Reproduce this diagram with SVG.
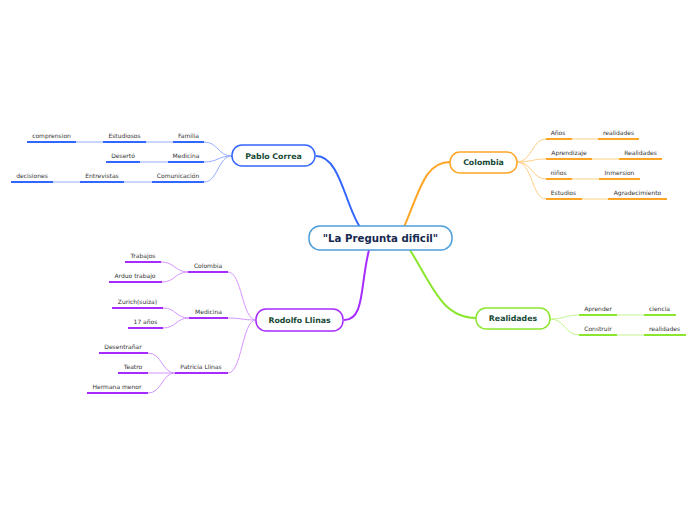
<svg xmlns="http://www.w3.org/2000/svg" width="696" height="520" viewBox="0 0 696 520">
<style>
.bg{fill:#ffffff}
.node rect{fill:#ffffff;stroke-width:1.5}
.nt{font-family:"DejaVu Sans",Verdana,sans-serif;font-weight:bold;font-size:7.8px;fill:#174a35;text-anchor:middle}
.ct{font-family:"DejaVu Sans",Verdana,sans-serif;font-weight:bold;font-size:10.2px;fill:#16294f;text-anchor:middle}
.st{font-family:"DejaVu Sans",Verdana,sans-serif;font-size:6px;fill:#333333;text-anchor:middle}
.ul{stroke-width:2;fill:none}
.main{stroke-width:2;fill:none}
.thin{stroke-width:1;fill:none}
.blue{stroke:#3366ff}.lblue{stroke:#93acff}
.orange{stroke:#ffa526}.lorange{stroke:#ffcf85}
.purple{stroke:#a52bff}.lpurple{stroke:#d494ff}
.green{stroke:#8ae62e}.lgreen{stroke:#c4f490}
</style>
<rect class="bg" x="0" y="0" width="696" height="520"/>
<g id="connectors">
  <path class="main blue" d="M316,156 C340,156 345,205 360,227"/>
  <path class="main orange" d="M404,227 C420,190 425,162 450,162"/>
  <path class="main purple" d="M369,250 C360,285 365,320 344,320"/>
  <path class="main green" d="M410,250 C432,285 442,318 476,318"/>
  <!-- Pablo Correa children -->
  <path class="thin lblue" d="M232,156 C218,156 218,142 204,142"/>
  <path class="thin lblue" d="M232,156 C218,156 218,162 204,162"/>
  <path class="thin lblue" d="M232,156 C218,156 218,182 204,182"/>
  <path class="thin lblue" d="M173,142 L146,142 M103,142 L76,142 M168,162 L140,162 M152,182 L124,182 M80,182 L53,182"/>
  <!-- Colombia children -->
  <path class="thin lorange" d="M517,162 C532,162 532,139 546,139"/>
  <path class="thin lorange" d="M517,162 C532,162 532,159 546,159"/>
  <path class="thin lorange" d="M517,162 C532,162 532,179 546,179"/>
  <path class="thin lorange" d="M517,162 C532,162 532,199 546,199"/>
  <path class="thin lorange" d="M572,139 L598,139 M592,159 L619,159 M572,179 L599,179 M582,199 L608,199"/>
  <!-- Rodolfo children -->
  <path class="thin lpurple" d="M256,320 C242,320 242,272 228,272"/>
  <path class="thin lpurple" d="M256,320 C242,320 242,318 228,318"/>
  <path class="thin lpurple" d="M256,320 C242,320 242,373 228,373"/>
  <path class="thin lpurple" d="M188,272 C175,272 175,262 161,262"/>
  <path class="thin lpurple" d="M188,272 C175,272 175,282 162,282"/>
  <path class="thin lpurple" d="M189,318 C176,318 176,308 163,308"/>
  <path class="thin lpurple" d="M189,318 C176,318 176,328 163,328"/>
  <path class="thin lpurple" d="M175,373 C162,373 162,353 148,353"/>
  <path class="thin lpurple" d="M175,373 L148,373"/>
  <path class="thin lpurple" d="M175,373 C162,373 162,393 148,393"/>
  <!-- Realidades children -->
  <path class="thin lgreen" d="M550,319 C565,319 565,315 579,315"/>
  <path class="thin lgreen" d="M550,319 C565,319 565,335 579,335"/>
  <path class="thin lgreen" d="M617,315 L644,315 M617,335 L644,335"/>
</g>
<g id="center" class="node">
  <rect x="309" y="226" width="143" height="24" rx="11" stroke="#4d9fdc"/>
  <text class="ct" x="380.5" y="241.5">"La Pregunta dificil"</text>
</g>
<g id="pablo" class="node">
  <rect x="232" y="145" width="83" height="21" rx="10" stroke="#3366ff"/>
  <text class="nt" x="273.5" y="158.8">Pablo Correa</text>
</g>
<g id="colombia" class="node">
  <rect x="450" y="152" width="67" height="21" rx="10" stroke="#ffa526"/>
  <text class="nt" x="483.5" y="165.3">Colombia</text>
</g>
<g id="rodolfo" class="node">
  <rect x="256" y="309" width="87" height="22" rx="10" stroke="#a52bff"/>
  <text class="nt" x="299.5" y="322.8">Rodolfo Llinas</text>
</g>
<g id="realidades" class="node">
  <rect x="476" y="308" width="74" height="21" rx="10" stroke="#8ae62e"/>
  <text class="nt" x="513" y="321.3">Realidades</text>
</g>
<g id="pablo-children">
  <g id="familia"><path class="ul blue" d="M173,142 H204"/><text class="st" x="188.5" y="138">Familia</text></g>
  <g id="estudiosos"><path class="ul blue" d="M103,142 H146"/><text class="st" x="124.5" y="138">Estudiosos</text></g>
  <g id="comprension"><path class="ul blue" d="M27,142 H76"/><text class="st" x="51.5" y="138">comprension</text></g>
  <g id="medicina-p"><path class="ul blue" d="M168,162 H204"/><text class="st" x="186" y="158">Medicina</text></g>
  <g id="deserto"><path class="ul blue" d="M106,162 H140"/><text class="st" x="123" y="158">Desertó</text></g>
  <g id="comunicacion"><path class="ul blue" d="M152,182 H204"/><text class="st" x="178" y="178">Comunicación</text></g>
  <g id="entrevistas"><path class="ul blue" d="M80,182 H124"/><text class="st" x="102" y="178">Entrevistas</text></g>
  <g id="decisiones"><path class="ul blue" d="M11,182 H53"/><text class="st" x="32" y="178">decisiones</text></g>
</g>
<g id="colombia-children">
  <g id="anos"><path class="ul orange" d="M546,139 H572"/><text class="st" x="558" y="134.5">Años</text></g>
  <g id="realidades1"><path class="ul orange" d="M598,139 H639"/><text class="st" x="618.5" y="134.5">realidades</text></g>
  <g id="aprendizaje"><path class="ul orange" d="M546,159 H592"/><text class="st" x="569" y="154.5">Aprendizaje</text></g>
  <g id="realidades2"><path class="ul orange" d="M619,159 H662"/><text class="st" x="640.5" y="154.5">Realidades</text></g>
  <g id="ninos"><path class="ul orange" d="M546,179 H572"/><text class="st" x="558.5" y="174.5">niños</text></g>
  <g id="inmersion"><path class="ul orange" d="M599,179 H640"/><text class="st" x="619.5" y="174.5">Inmersion</text></g>
  <g id="estudios"><path class="ul orange" d="M546,199 H582"/><text class="st" x="563.5" y="194.5">Estudios</text></g>
  <g id="agradecimiento"><path class="ul orange" d="M608,199 H667"/><text class="st" x="637.5" y="194.5">Agradecimiento</text></g>
</g>
<g id="rodolfo-children">
  <g id="colombia-r"><path class="ul purple" d="M188,272 H228"/><text class="st" x="208" y="267.5">Colombia</text></g>
  <g id="trabajos"><path class="ul purple" d="M125,262 H161"/><text class="st" x="143" y="257.5">Trabajos</text></g>
  <g id="arduo"><path class="ul purple" d="M109,282 H162"/><text class="st" x="135" y="277.5">Arduo trabajo</text></g>
  <g id="medicina-r"><path class="ul purple" d="M189,318 H228"/><text class="st" x="208.5" y="313.5">Medicina</text></g>
  <g id="zurich"><path class="ul purple" d="M112,308 H163"/><text class="st" x="137.5" y="303.5">Zurich(suiza)</text></g>
  <g id="anos17"><path class="ul purple" d="M128,328 H163"/><text class="st" x="145.5" y="323.5">17 años</text></g>
  <g id="patricia"><path class="ul purple" d="M175,373 H228"/><text class="st" x="201" y="368.5">Patricia Llinas</text></g>
  <g id="desentranar"><path class="ul purple" d="M99,353 H148"/><text class="st" x="123" y="348.5">Desentrañar</text></g>
  <g id="teatro"><path class="ul purple" d="M118,373 H148"/><text class="st" x="133" y="368.5">Teatro</text></g>
  <g id="hermana"><path class="ul purple" d="M87,393 H148"/><text class="st" x="117" y="388.5">Hermana menor</text></g>
</g>
<g id="realidades-children">
  <g id="aprender"><path class="ul green" d="M579,315 H617"/><text class="st" x="598" y="310.5">Aprender</text></g>
  <g id="ciencia"><path class="ul green" d="M644,315 H676"/><text class="st" x="659.5" y="310.5">ciencia</text></g>
  <g id="construir"><path class="ul green" d="M579,335 H617"/><text class="st" x="598" y="330.5">Construir</text></g>
  <g id="realidades3"><path class="ul green" d="M644,335 H686"/><text class="st" x="664.5" y="330.5">realidades</text></g>
</g>
</svg>
